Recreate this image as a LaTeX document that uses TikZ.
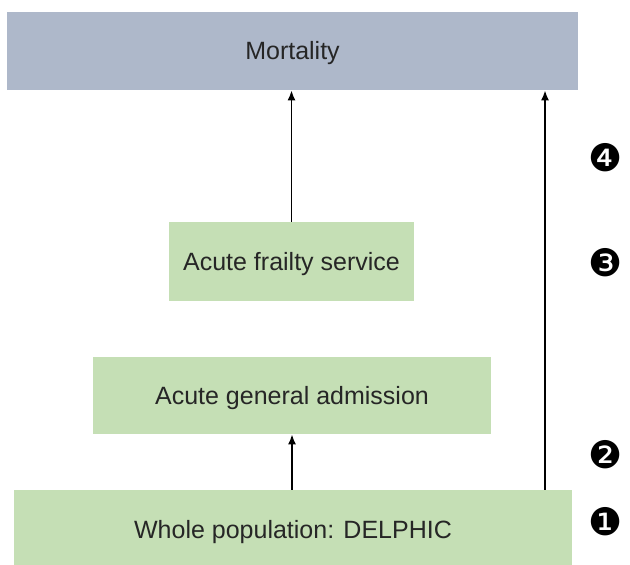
\documentclass[tikz,border=0pt]{standalone}
\usepackage{fontspec}
\setmainfont{Liberation Sans}
\newfontfamily\dingfont{DejaVu Sans}
\usetikzlibrary{arrows.meta}

\definecolor{mortblue}{HTML}{AEB8CA}
\definecolor{boxgreen}{HTML}{C5DFB5}

\tikzset{
  stage/.style={fill=boxgreen, inner sep=0pt, text height=9pt, text depth=0pt, text=black!85, font=\fontsize{12.5}{15}\selectfont},
  outcome/.style={stage, fill=mortblue},
  arr/.style={-{Latex[length=5pt,width=4pt]}, line width=0.8pt},
  marker/.style={font=\dingfont\fontsize{19}{21}\selectfont}
}

\begin{document}
\begin{tikzpicture}[x=0.5pt,y=-0.5pt]
    \useasboundingbox (0,0) rectangle (630,565);

    % Boxes
    \node[outcome, minimum width=285.5pt, minimum height=39pt] (mort) at (292.5,51) {Mortality};
    \node[stage, minimum width=122.5pt, minimum height=39.5pt] (frailty) at (291.5,261.5) {Acute frailty service};
    \node[stage, minimum width=199pt, minimum height=38.5pt] (admit) at (292,395.5) {Acute general admission};
    \node[stage, minimum width=279pt, minimum height=39pt] (pop) at (293,529) {Whole population: DELPHIC};

    % Arrows
    \coordinate (rx) at (545,0);
    \draw[arr] (frailty.north) -- (frailty.north |- mort.south);
    \draw[arr] (pop.north -| admit.south) -- (admit.south);
    \draw[arr] (pop.north -| rx) -- (mort.south -| rx);

    % Stage numbers
    \node[marker] (n4) at (606,158) {❹};
    \node[marker] (n3) at (606,263) {❸};
    \node[marker] (n2) at (606,455) {❷};
    \node[marker] (n1) at (606,522) {❶};
\end{tikzpicture}
\end{document}
